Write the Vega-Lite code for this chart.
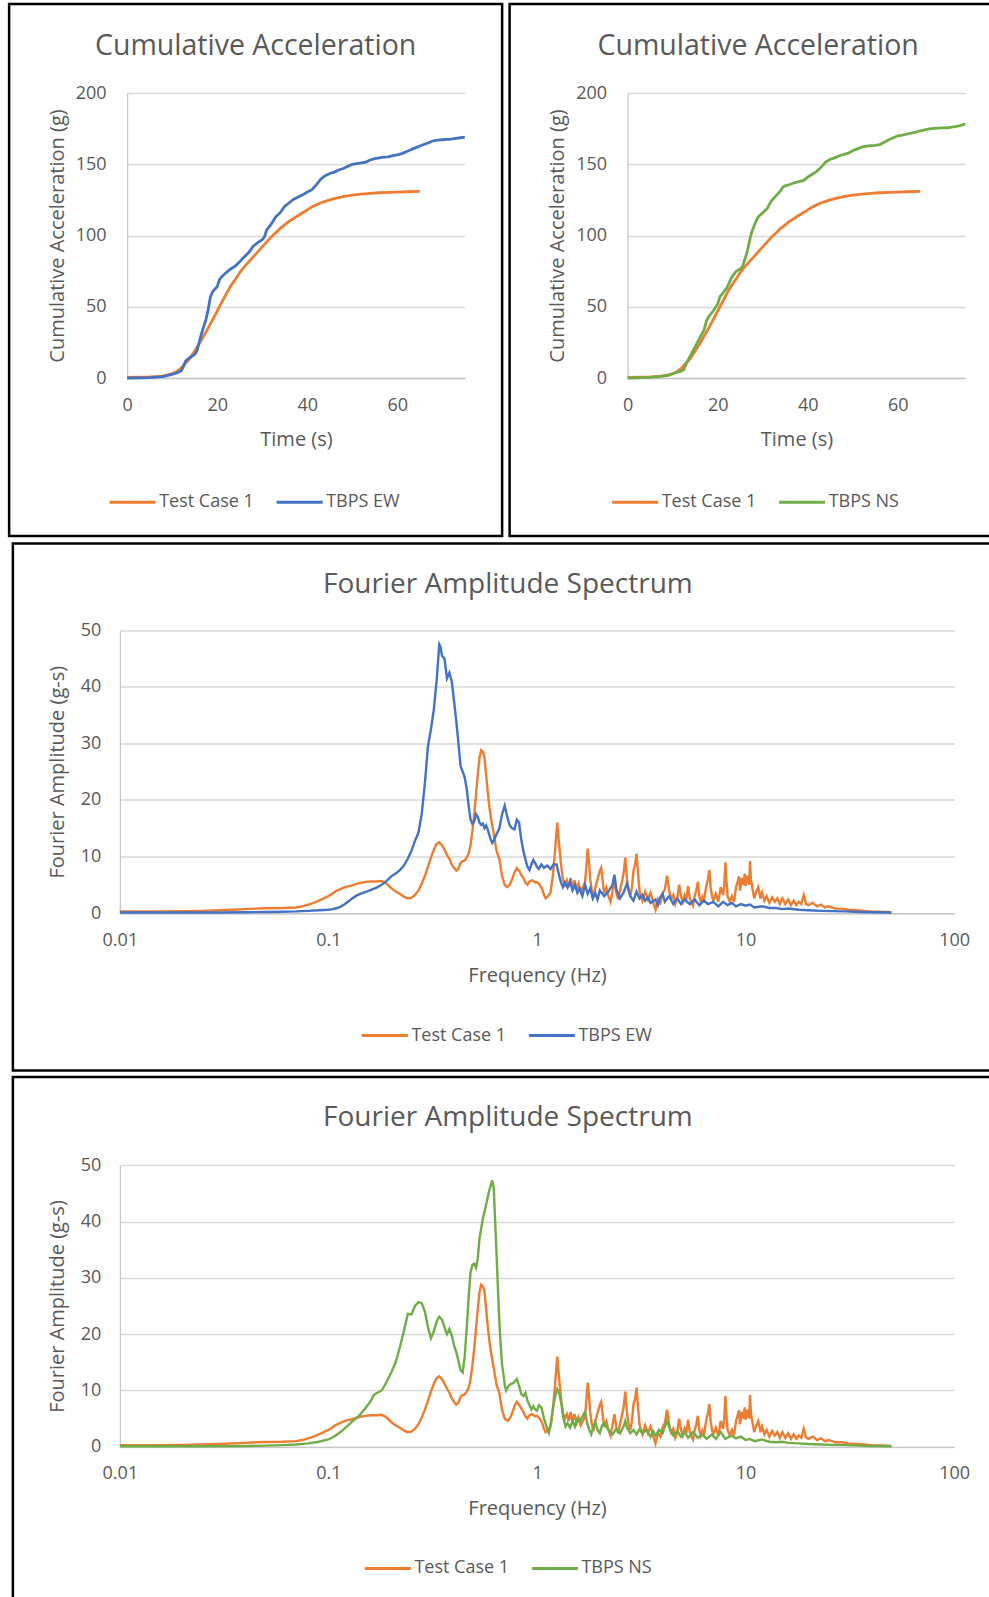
{
  "$schema": "https://vega.github.io/schema/vega-lite/v6.json",
  "padding": {"left": 7, "top": 2, "right": 0, "bottom": 0},
  "background": "white",
  "datasets": {
    "cum_tc1": [
      {"s":"Test Case 1","x":0,"y":0.5},{"s":"Test Case 1","x":3,"y":0.6},{"s":"Test Case 1","x":5,"y":0.8},{"s":"Test Case 1","x":7,"y":1.2},{"s":"Test Case 1","x":8,"y":1.5},{"s":"Test Case 1","x":9,"y":2.2},{"s":"Test Case 1","x":10,"y":3},{"s":"Test Case 1","x":11,"y":4.5},{"s":"Test Case 1","x":12,"y":7},{"s":"Test Case 1","x":13,"y":10.5},{"s":"Test Case 1","x":14,"y":14},{"s":"Test Case 1","x":15,"y":19},{"s":"Test Case 1","x":16,"y":24},{"s":"Test Case 1","x":17,"y":29.5},{"s":"Test Case 1","x":18,"y":35},{"s":"Test Case 1","x":19,"y":41},{"s":"Test Case 1","x":20,"y":47},{"s":"Test Case 1","x":21,"y":53},{"s":"Test Case 1","x":22,"y":59},{"s":"Test Case 1","x":23,"y":64.5},{"s":"Test Case 1","x":24,"y":69},{"s":"Test Case 1","x":25,"y":74},{"s":"Test Case 1","x":26,"y":78},{"s":"Test Case 1","x":27,"y":81.5},{"s":"Test Case 1","x":28,"y":85},{"s":"Test Case 1","x":29,"y":88.5},{"s":"Test Case 1","x":30,"y":92},{"s":"Test Case 1","x":31,"y":95.5},{"s":"Test Case 1","x":32,"y":99},{"s":"Test Case 1","x":33,"y":102},{"s":"Test Case 1","x":34,"y":105},{"s":"Test Case 1","x":35,"y":107.5},{"s":"Test Case 1","x":36,"y":110},{"s":"Test Case 1","x":37,"y":112},{"s":"Test Case 1","x":38,"y":114},{"s":"Test Case 1","x":39,"y":116},{"s":"Test Case 1","x":40,"y":118},{"s":"Test Case 1","x":41,"y":120},{"s":"Test Case 1","x":42,"y":121.5},{"s":"Test Case 1","x":43,"y":123},{"s":"Test Case 1","x":44,"y":124},{"s":"Test Case 1","x":45,"y":125},{"s":"Test Case 1","x":46,"y":125.8},{"s":"Test Case 1","x":47,"y":126.5},{"s":"Test Case 1","x":48,"y":127.2},{"s":"Test Case 1","x":49,"y":127.8},{"s":"Test Case 1","x":50,"y":128.3},{"s":"Test Case 1","x":52,"y":129},{"s":"Test Case 1","x":54,"y":129.6},{"s":"Test Case 1","x":56,"y":130},{"s":"Test Case 1","x":58,"y":130.3},{"s":"Test Case 1","x":60,"y":130.5},{"s":"Test Case 1","x":62,"y":130.7},{"s":"Test Case 1","x":65,"y":131}
    ],
    "cum_ew": [
      {"s":"TBPS EW","x":0,"y":0},{"s":"TBPS EW","x":3,"y":0.1},{"s":"TBPS EW","x":5,"y":0.3},{"s":"TBPS EW","x":8,"y":1},{"s":"TBPS EW","x":10,"y":2.5},{"s":"TBPS EW","x":11,"y":3.5},{"s":"TBPS EW","x":12,"y":5},{"s":"TBPS EW","x":12.5,"y":8},{"s":"TBPS EW","x":13,"y":12},{"s":"TBPS EW","x":14,"y":14.5},{"s":"TBPS EW","x":15,"y":16.5},{"s":"TBPS EW","x":15.5,"y":19},{"s":"TBPS EW","x":16,"y":25},{"s":"TBPS EW","x":16.5,"y":31},{"s":"TBPS EW","x":17,"y":36},{"s":"TBPS EW","x":17.5,"y":41},{"s":"TBPS EW","x":18,"y":48},{"s":"TBPS EW","x":18.5,"y":57},{"s":"TBPS EW","x":19,"y":60.5},{"s":"TBPS EW","x":19.5,"y":62.5},{"s":"TBPS EW","x":20,"y":64},{"s":"TBPS EW","x":20.5,"y":69},{"s":"TBPS EW","x":21,"y":71},{"s":"TBPS EW","x":22,"y":74},{"s":"TBPS EW","x":23,"y":76.5},{"s":"TBPS EW","x":24,"y":78.5},{"s":"TBPS EW","x":25,"y":81.5},{"s":"TBPS EW","x":26,"y":85},{"s":"TBPS EW","x":27,"y":88},{"s":"TBPS EW","x":28,"y":92.5},{"s":"TBPS EW","x":29,"y":95},{"s":"TBPS EW","x":30,"y":97},{"s":"TBPS EW","x":30.5,"y":99},{"s":"TBPS EW","x":31,"y":104},{"s":"TBPS EW","x":32,"y":108},{"s":"TBPS EW","x":33,"y":113},{"s":"TBPS EW","x":34,"y":116},{"s":"TBPS EW","x":35,"y":120.5},{"s":"TBPS EW","x":36,"y":123},{"s":"TBPS EW","x":37,"y":125.5},{"s":"TBPS EW","x":38,"y":127},{"s":"TBPS EW","x":39,"y":128.5},{"s":"TBPS EW","x":40,"y":130.5},{"s":"TBPS EW","x":41,"y":132},{"s":"TBPS EW","x":42,"y":135.5},{"s":"TBPS EW","x":43,"y":139.5},{"s":"TBPS EW","x":44,"y":142},{"s":"TBPS EW","x":45,"y":143.5},{"s":"TBPS EW","x":46,"y":144.5},{"s":"TBPS EW","x":47,"y":146},{"s":"TBPS EW","x":48,"y":147},{"s":"TBPS EW","x":49,"y":148.5},{"s":"TBPS EW","x":50,"y":150},{"s":"TBPS EW","x":51,"y":150.5},{"s":"TBPS EW","x":52,"y":151},{"s":"TBPS EW","x":53,"y":151.5},{"s":"TBPS EW","x":54,"y":153},{"s":"TBPS EW","x":55,"y":154},{"s":"TBPS EW","x":56,"y":154.5},{"s":"TBPS EW","x":57,"y":155},{"s":"TBPS EW","x":58,"y":155.2},{"s":"TBPS EW","x":59,"y":156},{"s":"TBPS EW","x":60,"y":156.6},{"s":"TBPS EW","x":61,"y":157.5},{"s":"TBPS EW","x":62,"y":158.8},{"s":"TBPS EW","x":63,"y":160.2},{"s":"TBPS EW","x":64,"y":161.5},{"s":"TBPS EW","x":65,"y":162.8},{"s":"TBPS EW","x":66,"y":164},{"s":"TBPS EW","x":67,"y":165.2},{"s":"TBPS EW","x":68,"y":166.5},{"s":"TBPS EW","x":69,"y":167},{"s":"TBPS EW","x":70,"y":167.2},{"s":"TBPS EW","x":71,"y":167.4},{"s":"TBPS EW","x":72,"y":167.6},{"s":"TBPS EW","x":73,"y":168.2},{"s":"TBPS EW","x":74,"y":168.6},{"s":"TBPS EW","x":75,"y":169}
    ],
    "cum_ns": [
      {"s":"TBPS NS","x":0,"y":0},{"s":"TBPS NS","x":3,"y":0.2},{"s":"TBPS NS","x":5,"y":0.5},{"s":"TBPS NS","x":7,"y":1},{"s":"TBPS NS","x":8,"y":1.5},{"s":"TBPS NS","x":9,"y":1.8},{"s":"TBPS NS","x":10,"y":3},{"s":"TBPS NS","x":11,"y":4},{"s":"TBPS NS","x":12,"y":5},{"s":"TBPS NS","x":12.5,"y":6},{"s":"TBPS NS","x":13,"y":10},{"s":"TBPS NS","x":13.5,"y":13},{"s":"TBPS NS","x":14,"y":16},{"s":"TBPS NS","x":14.5,"y":19},{"s":"TBPS NS","x":15,"y":22},{"s":"TBPS NS","x":15.5,"y":25},{"s":"TBPS NS","x":16,"y":28},{"s":"TBPS NS","x":16.5,"y":31},{"s":"TBPS NS","x":17,"y":34},{"s":"TBPS NS","x":17.5,"y":40},{"s":"TBPS NS","x":18,"y":43},{"s":"TBPS NS","x":19,"y":47},{"s":"TBPS NS","x":20,"y":52},{"s":"TBPS NS","x":20.5,"y":57},{"s":"TBPS NS","x":21,"y":59},{"s":"TBPS NS","x":22,"y":63},{"s":"TBPS NS","x":23,"y":70},{"s":"TBPS NS","x":24,"y":74.5},{"s":"TBPS NS","x":25,"y":76.5},{"s":"TBPS NS","x":25.5,"y":78},{"s":"TBPS NS","x":26,"y":83},{"s":"TBPS NS","x":26.5,"y":88},{"s":"TBPS NS","x":27,"y":95},{"s":"TBPS NS","x":27.5,"y":102},{"s":"TBPS NS","x":28,"y":106},{"s":"TBPS NS","x":28.5,"y":110},{"s":"TBPS NS","x":29,"y":113},{"s":"TBPS NS","x":30,"y":116},{"s":"TBPS NS","x":31,"y":119},{"s":"TBPS NS","x":31.5,"y":122},{"s":"TBPS NS","x":32,"y":124.5},{"s":"TBPS NS","x":33,"y":128},{"s":"TBPS NS","x":34,"y":131.5},{"s":"TBPS NS","x":34.5,"y":134},{"s":"TBPS NS","x":35,"y":134.8},{"s":"TBPS NS","x":36,"y":135.8},{"s":"TBPS NS","x":37,"y":137},{"s":"TBPS NS","x":38,"y":137.8},{"s":"TBPS NS","x":39,"y":138.5},{"s":"TBPS NS","x":40,"y":141},{"s":"TBPS NS","x":41,"y":143},{"s":"TBPS NS","x":42,"y":145},{"s":"TBPS NS","x":43,"y":148},{"s":"TBPS NS","x":44,"y":151.5},{"s":"TBPS NS","x":45,"y":153.5},{"s":"TBPS NS","x":46,"y":154.5},{"s":"TBPS NS","x":47,"y":156},{"s":"TBPS NS","x":48,"y":157},{"s":"TBPS NS","x":49,"y":157.8},{"s":"TBPS NS","x":50,"y":159.5},{"s":"TBPS NS","x":51,"y":160.8},{"s":"TBPS NS","x":52,"y":162},{"s":"TBPS NS","x":53,"y":162.7},{"s":"TBPS NS","x":54,"y":163},{"s":"TBPS NS","x":55,"y":163.2},{"s":"TBPS NS","x":56,"y":163.8},{"s":"TBPS NS","x":57,"y":165.5},{"s":"TBPS NS","x":58,"y":167.2},{"s":"TBPS NS","x":59,"y":168.6},{"s":"TBPS NS","x":60,"y":170},{"s":"TBPS NS","x":61,"y":170.5},{"s":"TBPS NS","x":62,"y":171.2},{"s":"TBPS NS","x":63,"y":171.8},{"s":"TBPS NS","x":64,"y":172.6},{"s":"TBPS NS","x":65,"y":173.5},{"s":"TBPS NS","x":66,"y":174.2},{"s":"TBPS NS","x":67,"y":174.8},{"s":"TBPS NS","x":68,"y":175.2},{"s":"TBPS NS","x":69,"y":175.4},{"s":"TBPS NS","x":70,"y":175.5},{"s":"TBPS NS","x":71,"y":175.6},{"s":"TBPS NS","x":72,"y":176},{"s":"TBPS NS","x":73,"y":176.5},{"s":"TBPS NS","x":74,"y":177.3},{"s":"TBPS NS","x":75,"y":178.3}
    ],
    "fas_tc1": [
      {"s":"Test Case 1","x":0.01,"y":0.3},{"s":"Test Case 1","x":0.015,"y":0.3},{"s":"Test Case 1","x":0.02,"y":0.35},{"s":"Test Case 1","x":0.025,"y":0.4},{"s":"Test Case 1","x":0.03,"y":0.5},{"s":"Test Case 1","x":0.035,"y":0.6},{"s":"Test Case 1","x":0.04,"y":0.7},{"s":"Test Case 1","x":0.045,"y":0.8},{"s":"Test Case 1","x":0.05,"y":0.85},{"s":"Test Case 1","x":0.06,"y":0.9},{"s":"Test Case 1","x":0.07,"y":1.0},{"s":"Test Case 1","x":0.075,"y":1.2},{"s":"Test Case 1","x":0.08,"y":1.5},{"s":"Test Case 1","x":0.085,"y":1.8},{"s":"Test Case 1","x":0.09,"y":2.2},{"s":"Test Case 1","x":0.095,"y":2.6},{"s":"Test Case 1","x":0.1,"y":3.0},{"s":"Test Case 1","x":0.105,"y":3.5},{"s":"Test Case 1","x":0.11,"y":4.0},{"s":"Test Case 1","x":0.115,"y":4.3},{"s":"Test Case 1","x":0.12,"y":4.6},{"s":"Test Case 1","x":0.13,"y":4.9},{"s":"Test Case 1","x":0.14,"y":5.3},{"s":"Test Case 1","x":0.15,"y":5.5},{"s":"Test Case 1","x":0.16,"y":5.6},{"s":"Test Case 1","x":0.17,"y":5.6},{"s":"Test Case 1","x":0.18,"y":5.7},{"s":"Test Case 1","x":0.19,"y":5.2},{"s":"Test Case 1","x":0.2,"y":4.4},{"s":"Test Case 1","x":0.21,"y":3.8},{"s":"Test Case 1","x":0.22,"y":3.4},{"s":"Test Case 1","x":0.23,"y":2.9},{"s":"Test Case 1","x":0.24,"y":2.6},{"s":"Test Case 1","x":0.25,"y":2.7},{"s":"Test Case 1","x":0.26,"y":3.2},{"s":"Test Case 1","x":0.27,"y":4.0},{"s":"Test Case 1","x":0.28,"y":5.2},{"s":"Test Case 1","x":0.29,"y":6.6},{"s":"Test Case 1","x":0.3,"y":8.2},{"s":"Test Case 1","x":0.31,"y":9.8},{"s":"Test Case 1","x":0.32,"y":11.2},{"s":"Test Case 1","x":0.33,"y":12.2},{"s":"Test Case 1","x":0.34,"y":12.5},{"s":"Test Case 1","x":0.35,"y":12.0},{"s":"Test Case 1","x":0.36,"y":11.2},{"s":"Test Case 1","x":0.37,"y":10.3},{"s":"Test Case 1","x":0.38,"y":9.6},{"s":"Test Case 1","x":0.39,"y":8.6},{"s":"Test Case 1","x":0.4,"y":8.0},{"s":"Test Case 1","x":0.41,"y":7.5},{"s":"Test Case 1","x":0.42,"y":7.8},{"s":"Test Case 1","x":0.43,"y":8.9},{"s":"Test Case 1","x":0.44,"y":9.2},{"s":"Test Case 1","x":0.45,"y":9.3},{"s":"Test Case 1","x":0.46,"y":9.8},{"s":"Test Case 1","x":0.47,"y":10.5},{"s":"Test Case 1","x":0.48,"y":12.0},{"s":"Test Case 1","x":0.49,"y":14.5},{"s":"Test Case 1","x":0.5,"y":17.5},{"s":"Test Case 1","x":0.51,"y":21},{"s":"Test Case 1","x":0.52,"y":24.5},{"s":"Test Case 1","x":0.53,"y":27.5},{"s":"Test Case 1","x":0.54,"y":28.8},{"s":"Test Case 1","x":0.55,"y":28.5},{"s":"Test Case 1","x":0.56,"y":27.5},{"s":"Test Case 1","x":0.57,"y":24.5},{"s":"Test Case 1","x":0.58,"y":21.5},{"s":"Test Case 1","x":0.59,"y":19.0},{"s":"Test Case 1","x":0.6,"y":17.0},{"s":"Test Case 1","x":0.62,"y":14.0},{"s":"Test Case 1","x":0.64,"y":11.0},{"s":"Test Case 1","x":0.66,"y":9.5},{"s":"Test Case 1","x":0.68,"y":6.5},{"s":"Test Case 1","x":0.7,"y":5.0},{"s":"Test Case 1","x":0.72,"y":4.6},{"s":"Test Case 1","x":0.74,"y":5.0},{"s":"Test Case 1","x":0.76,"y":6.0},{"s":"Test Case 1","x":0.78,"y":7.2},{"s":"Test Case 1","x":0.8,"y":8.0},{"s":"Test Case 1","x":0.82,"y":7.5},{"s":"Test Case 1","x":0.84,"y":6.8},{"s":"Test Case 1","x":0.86,"y":6.2},{"s":"Test Case 1","x":0.88,"y":5.4},{"s":"Test Case 1","x":0.9,"y":5.0},{"s":"Test Case 1","x":0.92,"y":5.6},{"s":"Test Case 1","x":0.95,"y":5.8},{"s":"Test Case 1","x":0.98,"y":5.4},{"s":"Test Case 1","x":1.0,"y":5.5},{"s":"Test Case 1","x":1.03,"y":5.0},{"s":"Test Case 1","x":1.06,"y":4.2},{"s":"Test Case 1","x":1.08,"y":3.2},{"s":"Test Case 1","x":1.1,"y":2.6},{"s":"Test Case 1","x":1.13,"y":3.0},{"s":"Test Case 1","x":1.16,"y":3.6},{"s":"Test Case 1","x":1.19,"y":6.5},{"s":"Test Case 1","x":1.22,"y":11},{"s":"Test Case 1","x":1.25,"y":16.0},{"s":"Test Case 1","x":1.27,"y":13},{"s":"Test Case 1","x":1.3,"y":9.0},{"s":"Test Case 1","x":1.33,"y":6.0},{"s":"Test Case 1","x":1.36,"y":5.0},{"s":"Test Case 1","x":1.39,"y":5.8},{"s":"Test Case 1","x":1.42,"y":4.6},{"s":"Test Case 1","x":1.45,"y":6.2},{"s":"Test Case 1","x":1.48,"y":4.4},{"s":"Test Case 1","x":1.51,"y":5.8},{"s":"Test Case 1","x":1.55,"y":4.2},{"s":"Test Case 1","x":1.58,"y":5.2},{"s":"Test Case 1","x":1.62,"y":3.8},{"s":"Test Case 1","x":1.66,"y":4.6},{"s":"Test Case 1","x":1.7,"y":5.5},{"s":"Test Case 1","x":1.73,"y":9.0},{"s":"Test Case 1","x":1.75,"y":11.4},{"s":"Test Case 1","x":1.77,"y":9.5},{"s":"Test Case 1","x":1.8,"y":6.0},{"s":"Test Case 1","x":1.83,"y":4.0},{"s":"Test Case 1","x":1.87,"y":3.2},{"s":"Test Case 1","x":1.9,"y":4.4},{"s":"Test Case 1","x":1.95,"y":6.0},{"s":"Test Case 1","x":2.0,"y":7.5},{"s":"Test Case 1","x":2.03,"y":8.0},{"s":"Test Case 1","x":2.06,"y":6.0},{"s":"Test Case 1","x":2.1,"y":3.5},{"s":"Test Case 1","x":2.15,"y":4.5},{"s":"Test Case 1","x":2.2,"y":3.0},{"s":"Test Case 1","x":2.25,"y":2.0},{"s":"Test Case 1","x":2.3,"y":3.8},{"s":"Test Case 1","x":2.35,"y":5.8},{"s":"Test Case 1","x":2.4,"y":3.5},{"s":"Test Case 1","x":2.45,"y":2.4},{"s":"Test Case 1","x":2.5,"y":4.0},{"s":"Test Case 1","x":2.55,"y":5.5},{"s":"Test Case 1","x":2.6,"y":7.0},{"s":"Test Case 1","x":2.65,"y":9.8},{"s":"Test Case 1","x":2.7,"y":6.0},{"s":"Test Case 1","x":2.75,"y":4.0},{"s":"Test Case 1","x":2.8,"y":3.0},{"s":"Test Case 1","x":2.85,"y":4.5},{"s":"Test Case 1","x":2.9,"y":7.5},{"s":"Test Case 1","x":2.95,"y":8.5},{"s":"Test Case 1","x":3.0,"y":10.5},{"s":"Test Case 1","x":3.05,"y":7.0},{"s":"Test Case 1","x":3.1,"y":4.0},{"s":"Test Case 1","x":3.15,"y":3.0},{"s":"Test Case 1","x":3.2,"y":2.2},{"s":"Test Case 1","x":3.3,"y":3.8},{"s":"Test Case 1","x":3.4,"y":2.4},{"s":"Test Case 1","x":3.5,"y":3.6},{"s":"Test Case 1","x":3.6,"y":2.0},{"s":"Test Case 1","x":3.7,"y":0.6},{"s":"Test Case 1","x":3.8,"y":2.5},{"s":"Test Case 1","x":3.9,"y":1.8},{"s":"Test Case 1","x":4.0,"y":3.5},{"s":"Test Case 1","x":4.1,"y":4.2},{"s":"Test Case 1","x":4.2,"y":6.6},{"s":"Test Case 1","x":4.3,"y":4.0},{"s":"Test Case 1","x":4.4,"y":2.5},{"s":"Test Case 1","x":4.5,"y":3.2},{"s":"Test Case 1","x":4.6,"y":1.6},{"s":"Test Case 1","x":4.7,"y":2.6},{"s":"Test Case 1","x":4.8,"y":5.0},{"s":"Test Case 1","x":4.9,"y":3.0},{"s":"Test Case 1","x":5.0,"y":2.0},{"s":"Test Case 1","x":5.1,"y":3.2},{"s":"Test Case 1","x":5.2,"y":2.4},{"s":"Test Case 1","x":5.3,"y":4.8},{"s":"Test Case 1","x":5.4,"y":2.6},{"s":"Test Case 1","x":5.5,"y":1.8},{"s":"Test Case 1","x":5.6,"y":1.3},{"s":"Test Case 1","x":5.7,"y":3.0},{"s":"Test Case 1","x":5.8,"y":4.0},{"s":"Test Case 1","x":5.9,"y":5.5},{"s":"Test Case 1","x":6.0,"y":3.0},{"s":"Test Case 1","x":6.1,"y":2.0},{"s":"Test Case 1","x":6.2,"y":2.8},{"s":"Test Case 1","x":6.3,"y":1.8},{"s":"Test Case 1","x":6.4,"y":3.6},{"s":"Test Case 1","x":6.5,"y":5.0},{"s":"Test Case 1","x":6.6,"y":6.0},{"s":"Test Case 1","x":6.7,"y":7.6},{"s":"Test Case 1","x":6.8,"y":4.5},{"s":"Test Case 1","x":6.9,"y":3.0},{"s":"Test Case 1","x":7.0,"y":2.2},{"s":"Test Case 1","x":7.2,"y":3.4},{"s":"Test Case 1","x":7.4,"y":2.0},{"s":"Test Case 1","x":7.6,"y":4.6},{"s":"Test Case 1","x":7.8,"y":3.2},{"s":"Test Case 1","x":7.9,"y":5.0},{"s":"Test Case 1","x":8.0,"y":9.0},{"s":"Test Case 1","x":8.1,"y":5.5},{"s":"Test Case 1","x":8.2,"y":3.0},{"s":"Test Case 1","x":8.4,"y":2.0},{"s":"Test Case 1","x":8.6,"y":3.0},{"s":"Test Case 1","x":8.8,"y":2.0},{"s":"Test Case 1","x":9.0,"y":4.6},{"s":"Test Case 1","x":9.2,"y":5.8},{"s":"Test Case 1","x":9.3,"y":6.5},{"s":"Test Case 1","x":9.4,"y":4.0},{"s":"Test Case 1","x":9.6,"y":6.2},{"s":"Test Case 1","x":9.8,"y":5.0},{"s":"Test Case 1","x":9.9,"y":7.0},{"s":"Test Case 1","x":10.0,"y":4.8},{"s":"Test Case 1","x":10.2,"y":6.6},{"s":"Test Case 1","x":10.4,"y":5.0},{"s":"Test Case 1","x":10.5,"y":9.2},{"s":"Test Case 1","x":10.6,"y":6.0},{"s":"Test Case 1","x":10.8,"y":4.2},{"s":"Test Case 1","x":11.0,"y":2.6},{"s":"Test Case 1","x":11.2,"y":3.6},{"s":"Test Case 1","x":11.5,"y":4.6},{"s":"Test Case 1","x":11.8,"y":2.6},{"s":"Test Case 1","x":12.0,"y":3.6},{"s":"Test Case 1","x":12.3,"y":2.2},{"s":"Test Case 1","x":12.6,"y":3.0},{"s":"Test Case 1","x":13.0,"y":1.8},{"s":"Test Case 1","x":13.4,"y":2.8},{"s":"Test Case 1","x":13.8,"y":2.0},{"s":"Test Case 1","x":14.2,"y":2.6},{"s":"Test Case 1","x":14.6,"y":1.6},{"s":"Test Case 1","x":15.0,"y":2.6},{"s":"Test Case 1","x":15.5,"y":1.6},{"s":"Test Case 1","x":16.0,"y":2.4},{"s":"Test Case 1","x":16.5,"y":1.4},{"s":"Test Case 1","x":17.0,"y":2.2},{"s":"Test Case 1","x":17.5,"y":1.4},{"s":"Test Case 1","x":18.0,"y":2.0},{"s":"Test Case 1","x":18.5,"y":1.6},{"s":"Test Case 1","x":19.0,"y":3.2},{"s":"Test Case 1","x":19.5,"y":1.6},{"s":"Test Case 1","x":20.0,"y":1.4},{"s":"Test Case 1","x":21.0,"y":1.8},{"s":"Test Case 1","x":22.0,"y":1.2},{"s":"Test Case 1","x":23.0,"y":1.5},{"s":"Test Case 1","x":24.0,"y":1.0},{"s":"Test Case 1","x":25.0,"y":1.2},{"s":"Test Case 1","x":27.0,"y":0.8},{"s":"Test Case 1","x":29.0,"y":0.8},{"s":"Test Case 1","x":31.0,"y":0.6},{"s":"Test Case 1","x":34.0,"y":0.5},{"s":"Test Case 1","x":37.0,"y":0.4},{"s":"Test Case 1","x":40.0,"y":0.3},{"s":"Test Case 1","x":44.0,"y":0.25},{"s":"Test Case 1","x":48.0,"y":0.2},{"s":"Test Case 1","x":50.0,"y":0.15}
    ],
    "fas_ew": [
      {"s":"TBPS EW","x":0.01,"y":0.1},{"s":"TBPS EW","x":0.02,"y":0.1},{"s":"TBPS EW","x":0.03,"y":0.1},{"s":"TBPS EW","x":0.04,"y":0.15},{"s":"TBPS EW","x":0.05,"y":0.2},{"s":"TBPS EW","x":0.06,"y":0.25},{"s":"TBPS EW","x":0.07,"y":0.3},{"s":"TBPS EW","x":0.08,"y":0.4},{"s":"TBPS EW","x":0.09,"y":0.5},{"s":"TBPS EW","x":0.1,"y":0.6},{"s":"TBPS EW","x":0.105,"y":0.7},{"s":"TBPS EW","x":0.11,"y":0.9},{"s":"TBPS EW","x":0.115,"y":1.2},{"s":"TBPS EW","x":0.12,"y":1.6},{"s":"TBPS EW","x":0.125,"y":2.1},{"s":"TBPS EW","x":0.13,"y":2.6},{"s":"TBPS EW","x":0.135,"y":3.0},{"s":"TBPS EW","x":0.14,"y":3.3},{"s":"TBPS EW","x":0.15,"y":3.7},{"s":"TBPS EW","x":0.16,"y":4.1},{"s":"TBPS EW","x":0.17,"y":4.5},{"s":"TBPS EW","x":0.18,"y":5.0},{"s":"TBPS EW","x":0.19,"y":5.7},{"s":"TBPS EW","x":0.2,"y":6.5},{"s":"TBPS EW","x":0.21,"y":7.0},{"s":"TBPS EW","x":0.22,"y":7.6},{"s":"TBPS EW","x":0.23,"y":8.4},{"s":"TBPS EW","x":0.24,"y":9.6},{"s":"TBPS EW","x":0.25,"y":11.0},{"s":"TBPS EW","x":0.26,"y":12.8},{"s":"TBPS EW","x":0.27,"y":14.2},{"s":"TBPS EW","x":0.28,"y":17.5},{"s":"TBPS EW","x":0.29,"y":23},{"s":"TBPS EW","x":0.3,"y":29.5},{"s":"TBPS EW","x":0.31,"y":32.5},{"s":"TBPS EW","x":0.32,"y":36},{"s":"TBPS EW","x":0.33,"y":41},{"s":"TBPS EW","x":0.34,"y":47.5},{"s":"TBPS EW","x":0.345,"y":47.0},{"s":"TBPS EW","x":0.35,"y":45.5},{"s":"TBPS EW","x":0.36,"y":45.0},{"s":"TBPS EW","x":0.37,"y":41.5},{"s":"TBPS EW","x":0.38,"y":42.5},{"s":"TBPS EW","x":0.39,"y":41.0},{"s":"TBPS EW","x":0.4,"y":37.5},{"s":"TBPS EW","x":0.41,"y":34},{"s":"TBPS EW","x":0.42,"y":30},{"s":"TBPS EW","x":0.43,"y":26},{"s":"TBPS EW","x":0.44,"y":25},{"s":"TBPS EW","x":0.45,"y":24},{"s":"TBPS EW","x":0.46,"y":22},{"s":"TBPS EW","x":0.47,"y":19},{"s":"TBPS EW","x":0.48,"y":16.5},{"s":"TBPS EW","x":0.49,"y":15.8},{"s":"TBPS EW","x":0.5,"y":16.2},{"s":"TBPS EW","x":0.51,"y":17.5},{"s":"TBPS EW","x":0.52,"y":17.0},{"s":"TBPS EW","x":0.53,"y":16.0},{"s":"TBPS EW","x":0.54,"y":15.6},{"s":"TBPS EW","x":0.55,"y":15.8},{"s":"TBPS EW","x":0.56,"y":15.0},{"s":"TBPS EW","x":0.57,"y":15.5},{"s":"TBPS EW","x":0.58,"y":14.8},{"s":"TBPS EW","x":0.6,"y":13.0},{"s":"TBPS EW","x":0.61,"y":12.4},{"s":"TBPS EW","x":0.62,"y":12.8},{"s":"TBPS EW","x":0.64,"y":14.0},{"s":"TBPS EW","x":0.66,"y":15.0},{"s":"TBPS EW","x":0.68,"y":17.5},{"s":"TBPS EW","x":0.7,"y":19.0},{"s":"TBPS EW","x":0.71,"y":18.0},{"s":"TBPS EW","x":0.72,"y":17.0},{"s":"TBPS EW","x":0.74,"y":15.5},{"s":"TBPS EW","x":0.76,"y":15.0},{"s":"TBPS EW","x":0.78,"y":14.8},{"s":"TBPS EW","x":0.8,"y":16.5},{"s":"TBPS EW","x":0.82,"y":16.0},{"s":"TBPS EW","x":0.84,"y":13.0},{"s":"TBPS EW","x":0.86,"y":11.0},{"s":"TBPS EW","x":0.88,"y":9.5},{"s":"TBPS EW","x":0.9,"y":8.2},{"s":"TBPS EW","x":0.92,"y":7.6},{"s":"TBPS EW","x":0.94,"y":8.6},{"s":"TBPS EW","x":0.96,"y":9.4},{"s":"TBPS EW","x":0.98,"y":8.8},{"s":"TBPS EW","x":1.0,"y":8.2},{"s":"TBPS EW","x":1.02,"y":7.8},{"s":"TBPS EW","x":1.05,"y":8.6},{"s":"TBPS EW","x":1.08,"y":8.0},{"s":"TBPS EW","x":1.12,"y":8.4},{"s":"TBPS EW","x":1.16,"y":7.8},{"s":"TBPS EW","x":1.2,"y":8.6},{"s":"TBPS EW","x":1.24,"y":8.6},{"s":"TBPS EW","x":1.27,"y":7.0},{"s":"TBPS EW","x":1.3,"y":5.5},{"s":"TBPS EW","x":1.33,"y":4.6},{"s":"TBPS EW","x":1.36,"y":5.4},{"s":"TBPS EW","x":1.4,"y":4.5},{"s":"TBPS EW","x":1.44,"y":5.6},{"s":"TBPS EW","x":1.48,"y":4.0},{"s":"TBPS EW","x":1.52,"y":5.0},{"s":"TBPS EW","x":1.56,"y":3.6},{"s":"TBPS EW","x":1.6,"y":4.4},{"s":"TBPS EW","x":1.65,"y":3.0},{"s":"TBPS EW","x":1.7,"y":5.0},{"s":"TBPS EW","x":1.75,"y":3.4},{"s":"TBPS EW","x":1.8,"y":4.4},{"s":"TBPS EW","x":1.85,"y":2.6},{"s":"TBPS EW","x":1.9,"y":3.6},{"s":"TBPS EW","x":1.95,"y":2.4},{"s":"TBPS EW","x":2.0,"y":4.0},{"s":"TBPS EW","x":2.1,"y":3.0},{"s":"TBPS EW","x":2.2,"y":3.8},{"s":"TBPS EW","x":2.3,"y":5.0},{"s":"TBPS EW","x":2.35,"y":6.8},{"s":"TBPS EW","x":2.4,"y":4.2},{"s":"TBPS EW","x":2.5,"y":2.6},{"s":"TBPS EW","x":2.6,"y":3.6},{"s":"TBPS EW","x":2.7,"y":5.2},{"s":"TBPS EW","x":2.8,"y":3.0},{"s":"TBPS EW","x":2.9,"y":2.2},{"s":"TBPS EW","x":3.0,"y":3.8},{"s":"TBPS EW","x":3.1,"y":2.6},{"s":"TBPS EW","x":3.2,"y":3.2},{"s":"TBPS EW","x":3.3,"y":2.2},{"s":"TBPS EW","x":3.4,"y":2.8},{"s":"TBPS EW","x":3.5,"y":1.8},{"s":"TBPS EW","x":3.7,"y":2.4},{"s":"TBPS EW","x":3.8,"y":1.4},{"s":"TBPS EW","x":3.9,"y":2.8},{"s":"TBPS EW","x":4.0,"y":3.4},{"s":"TBPS EW","x":4.1,"y":2.0},{"s":"TBPS EW","x":4.3,"y":3.0},{"s":"TBPS EW","x":4.5,"y":1.6},{"s":"TBPS EW","x":4.7,"y":2.6},{"s":"TBPS EW","x":4.9,"y":1.6},{"s":"TBPS EW","x":5.1,"y":2.4},{"s":"TBPS EW","x":5.4,"y":1.6},{"s":"TBPS EW","x":5.7,"y":2.4},{"s":"TBPS EW","x":6.0,"y":1.4},{"s":"TBPS EW","x":6.3,"y":2.2},{"s":"TBPS EW","x":6.6,"y":1.6},{"s":"TBPS EW","x":7.0,"y":2.0},{"s":"TBPS EW","x":7.4,"y":1.2},{"s":"TBPS EW","x":7.8,"y":2.0},{"s":"TBPS EW","x":8.2,"y":1.4},{"s":"TBPS EW","x":8.6,"y":1.8},{"s":"TBPS EW","x":9.0,"y":1.2},{"s":"TBPS EW","x":9.5,"y":1.6},{"s":"TBPS EW","x":10.0,"y":1.3},{"s":"TBPS EW","x":10.5,"y":1.5},{"s":"TBPS EW","x":11.0,"y":1.0},{"s":"TBPS EW","x":12.0,"y":1.2},{"s":"TBPS EW","x":13.0,"y":0.9},{"s":"TBPS EW","x":14.0,"y":0.9},{"s":"TBPS EW","x":15.0,"y":0.7},{"s":"TBPS EW","x":16.0,"y":0.8},{"s":"TBPS EW","x":18.0,"y":0.6},{"s":"TBPS EW","x":20.0,"y":0.5},{"s":"TBPS EW","x":23.0,"y":0.4},{"s":"TBPS EW","x":26.0,"y":0.35},{"s":"TBPS EW","x":30.0,"y":0.3},{"s":"TBPS EW","x":35.0,"y":0.2},{"s":"TBPS EW","x":40.0,"y":0.15},{"s":"TBPS EW","x":50.0,"y":0.1}
    ],
    "fas_ns": [
      {"s":"TBPS NS","x":0.01,"y":0.1},{"s":"TBPS NS","x":0.02,"y":0.1},{"s":"TBPS NS","x":0.03,"y":0.1},{"s":"TBPS NS","x":0.04,"y":0.15},{"s":"TBPS NS","x":0.05,"y":0.2},{"s":"TBPS NS","x":0.06,"y":0.3},{"s":"TBPS NS","x":0.07,"y":0.4},{"s":"TBPS NS","x":0.08,"y":0.6},{"s":"TBPS NS","x":0.09,"y":0.9},{"s":"TBPS NS","x":0.1,"y":1.3},{"s":"TBPS NS","x":0.105,"y":1.7},{"s":"TBPS NS","x":0.11,"y":2.2},{"s":"TBPS NS","x":0.115,"y":2.7},{"s":"TBPS NS","x":0.12,"y":3.3},{"s":"TBPS NS","x":0.125,"y":3.9},{"s":"TBPS NS","x":0.13,"y":4.5},{"s":"TBPS NS","x":0.135,"y":5.0},{"s":"TBPS NS","x":0.14,"y":5.5},{"s":"TBPS NS","x":0.15,"y":6.8},{"s":"TBPS NS","x":0.16,"y":8.2},{"s":"TBPS NS","x":0.165,"y":9.2},{"s":"TBPS NS","x":0.17,"y":9.5},{"s":"TBPS NS","x":0.18,"y":10.0},{"s":"TBPS NS","x":0.19,"y":11.5},{"s":"TBPS NS","x":0.2,"y":13.2},{"s":"TBPS NS","x":0.21,"y":15.0},{"s":"TBPS NS","x":0.22,"y":17.7},{"s":"TBPS NS","x":0.23,"y":20.5},{"s":"TBPS NS","x":0.24,"y":23.6},{"s":"TBPS NS","x":0.25,"y":23.5},{"s":"TBPS NS","x":0.26,"y":25.0},{"s":"TBPS NS","x":0.27,"y":25.7},{"s":"TBPS NS","x":0.28,"y":25.5},{"s":"TBPS NS","x":0.29,"y":24},{"s":"TBPS NS","x":0.3,"y":21.2},{"s":"TBPS NS","x":0.31,"y":19.3},{"s":"TBPS NS","x":0.32,"y":20.5},{"s":"TBPS NS","x":0.33,"y":22.2},{"s":"TBPS NS","x":0.34,"y":23.1},{"s":"TBPS NS","x":0.35,"y":22.6},{"s":"TBPS NS","x":0.36,"y":21.2},{"s":"TBPS NS","x":0.37,"y":20.0},{"s":"TBPS NS","x":0.38,"y":20.9},{"s":"TBPS NS","x":0.39,"y":19.8},{"s":"TBPS NS","x":0.4,"y":18.0},{"s":"TBPS NS","x":0.41,"y":16.8},{"s":"TBPS NS","x":0.42,"y":15.3},{"s":"TBPS NS","x":0.43,"y":13.6},{"s":"TBPS NS","x":0.44,"y":13.2},{"s":"TBPS NS","x":0.45,"y":16},{"s":"TBPS NS","x":0.46,"y":21},{"s":"TBPS NS","x":0.47,"y":26.5},{"s":"TBPS NS","x":0.48,"y":31},{"s":"TBPS NS","x":0.49,"y":32.3},{"s":"TBPS NS","x":0.5,"y":32.5},{"s":"TBPS NS","x":0.51,"y":31.8},{"s":"TBPS NS","x":0.52,"y":33.5},{"s":"TBPS NS","x":0.53,"y":37},{"s":"TBPS NS","x":0.55,"y":40.5},{"s":"TBPS NS","x":0.57,"y":43},{"s":"TBPS NS","x":0.59,"y":45.5},{"s":"TBPS NS","x":0.61,"y":47.3},{"s":"TBPS NS","x":0.62,"y":46.0},{"s":"TBPS NS","x":0.63,"y":40},{"s":"TBPS NS","x":0.64,"y":34},{"s":"TBPS NS","x":0.65,"y":27.8},{"s":"TBPS NS","x":0.66,"y":22},{"s":"TBPS NS","x":0.67,"y":18},{"s":"TBPS NS","x":0.68,"y":14.5},{"s":"TBPS NS","x":0.69,"y":12.9},{"s":"TBPS NS","x":0.7,"y":11.0},{"s":"TBPS NS","x":0.71,"y":10.0},{"s":"TBPS NS","x":0.73,"y":10.8},{"s":"TBPS NS","x":0.75,"y":11.2},{"s":"TBPS NS","x":0.77,"y":11.3},{"s":"TBPS NS","x":0.8,"y":12.0},{"s":"TBPS NS","x":0.82,"y":10.8},{"s":"TBPS NS","x":0.84,"y":9.4},{"s":"TBPS NS","x":0.86,"y":9.0},{"s":"TBPS NS","x":0.88,"y":9.6},{"s":"TBPS NS","x":0.9,"y":8.2},{"s":"TBPS NS","x":0.92,"y":7.4},{"s":"TBPS NS","x":0.94,"y":6.6},{"s":"TBPS NS","x":0.96,"y":7.2},{"s":"TBPS NS","x":0.98,"y":6.6},{"s":"TBPS NS","x":1.0,"y":6.4},{"s":"TBPS NS","x":1.02,"y":7.4},{"s":"TBPS NS","x":1.05,"y":7.0},{"s":"TBPS NS","x":1.08,"y":5.0},{"s":"TBPS NS","x":1.11,"y":3.6},{"s":"TBPS NS","x":1.14,"y":2.5},{"s":"TBPS NS","x":1.17,"y":4.5},{"s":"TBPS NS","x":1.2,"y":7.5},{"s":"TBPS NS","x":1.23,"y":9.4},{"s":"TBPS NS","x":1.25,"y":10.2},{"s":"TBPS NS","x":1.28,"y":9.4},{"s":"TBPS NS","x":1.31,"y":7.5},{"s":"TBPS NS","x":1.34,"y":5.0},{"s":"TBPS NS","x":1.37,"y":3.6},{"s":"TBPS NS","x":1.4,"y":4.2},{"s":"TBPS NS","x":1.44,"y":3.4},{"s":"TBPS NS","x":1.48,"y":4.6},{"s":"TBPS NS","x":1.52,"y":3.6},{"s":"TBPS NS","x":1.56,"y":5.0},{"s":"TBPS NS","x":1.6,"y":4.4},{"s":"TBPS NS","x":1.65,"y":5.4},{"s":"TBPS NS","x":1.7,"y":6.2},{"s":"TBPS NS","x":1.74,"y":4.2},{"s":"TBPS NS","x":1.78,"y":3.0},{"s":"TBPS NS","x":1.82,"y":2.2},{"s":"TBPS NS","x":1.86,"y":3.6},{"s":"TBPS NS","x":1.9,"y":4.4},{"s":"TBPS NS","x":1.95,"y":3.0},{"s":"TBPS NS","x":2.0,"y":2.4},{"s":"TBPS NS","x":2.05,"y":3.8},{"s":"TBPS NS","x":2.1,"y":4.2},{"s":"TBPS NS","x":2.2,"y":3.0},{"s":"TBPS NS","x":2.3,"y":2.2},{"s":"TBPS NS","x":2.4,"y":3.2},{"s":"TBPS NS","x":2.5,"y":2.4},{"s":"TBPS NS","x":2.6,"y":3.6},{"s":"TBPS NS","x":2.65,"y":4.6},{"s":"TBPS NS","x":2.7,"y":3.4},{"s":"TBPS NS","x":2.8,"y":2.4},{"s":"TBPS NS","x":2.9,"y":3.0},{"s":"TBPS NS","x":3.0,"y":2.2},{"s":"TBPS NS","x":3.1,"y":3.2},{"s":"TBPS NS","x":3.2,"y":2.4},{"s":"TBPS NS","x":3.35,"y":3.0},{"s":"TBPS NS","x":3.5,"y":1.8},{"s":"TBPS NS","x":3.6,"y":2.8},{"s":"TBPS NS","x":3.7,"y":2.0},{"s":"TBPS NS","x":3.85,"y":3.0},{"s":"TBPS NS","x":4.0,"y":2.4},{"s":"TBPS NS","x":4.1,"y":3.6},{"s":"TBPS NS","x":4.2,"y":4.6},{"s":"TBPS NS","x":4.35,"y":3.0},{"s":"TBPS NS","x":4.5,"y":2.0},{"s":"TBPS NS","x":4.7,"y":2.8},{"s":"TBPS NS","x":4.9,"y":1.8},{"s":"TBPS NS","x":5.1,"y":2.6},{"s":"TBPS NS","x":5.3,"y":1.6},{"s":"TBPS NS","x":5.6,"y":2.6},{"s":"TBPS NS","x":5.9,"y":1.6},{"s":"TBPS NS","x":6.2,"y":2.2},{"s":"TBPS NS","x":6.5,"y":1.4},{"s":"TBPS NS","x":6.9,"y":2.2},{"s":"TBPS NS","x":7.2,"y":1.4},{"s":"TBPS NS","x":7.6,"y":2.6},{"s":"TBPS NS","x":8.0,"y":1.4},{"s":"TBPS NS","x":8.5,"y":2.0},{"s":"TBPS NS","x":9.0,"y":1.5},{"s":"TBPS NS","x":9.5,"y":1.8},{"s":"TBPS NS","x":10.0,"y":1.2},{"s":"TBPS NS","x":10.5,"y":1.4},{"s":"TBPS NS","x":11.0,"y":1.0},{"s":"TBPS NS","x":12.0,"y":1.3},{"s":"TBPS NS","x":13.0,"y":0.9},{"s":"TBPS NS","x":14.0,"y":0.8},{"s":"TBPS NS","x":15.0,"y":0.9},{"s":"TBPS NS","x":16.0,"y":0.7},{"s":"TBPS NS","x":18.0,"y":0.6},{"s":"TBPS NS","x":20.0,"y":0.5},{"s":"TBPS NS","x":23.0,"y":0.4},{"s":"TBPS NS","x":26.0,"y":0.35},{"s":"TBPS NS","x":30.0,"y":0.3},{"s":"TBPS NS","x":35.0,"y":0.2},{"s":"TBPS NS","x":40.0,"y":0.15},{"s":"TBPS NS","x":50.0,"y":0.1}
    ]
  },
  "vconcat": [
    {
      "hconcat": [
        {
          "width": 493, "height": 532,
          "title": {"text": "Cumulative Acceleration", "fontSize": 28.5, "offset": -56},
          "encoding": {
            "x": {"field": "x", "type": "quantitative", "scale": {"domain": [0, 75], "range": [118, 455.7], "nice": false, "zero": false},
                  "axis": {"title": "Time (s)", "values": [0, 20, 40, 60], "grid": false, "offset": -158, "labelPadding": 18, "titlePadding": 15}},
            "y": {"field": "y", "type": "quantitative", "scale": {"domain": [0, 200], "range": [374, 89], "nice": false, "zero": false},
                  "axis": {"title": "Cumulative Acceleration (g)", "values": [0, 50, 100, 150, 200], "grid": true, "offset": -118, "labelPadding": 21, "titlePadding": 8}},
            "color": {"field": "s", "type": "nominal", "scale": {"domain": ["Test Case 1", "TBPS EW"], "range": ["#ED7D31", "#4472C4"]},
                      "legend": {"title": null, "orient": "none", "direction": "horizontal", "legendX": 99, "legendY": 473.5}}
          },
          "layer": [
            {"data": {"name": "cum_tc1"}, "mark": {"type": "line", "strokeWidth": 2.8}},
            {"data": {"name": "cum_ew"}, "mark": {"type": "line", "strokeWidth": 2.8}}
          ]
        },
        {
          "width": 497, "height": 532,
          "title": {"text": "Cumulative Acceleration", "fontSize": 28.5, "offset": -56},
          "encoding": {
            "x": {"field": "x", "type": "quantitative", "scale": {"domain": [0, 75], "range": [118, 455.7], "nice": false, "zero": false},
                  "axis": {"title": "Time (s)", "values": [0, 20, 40, 60], "grid": false, "offset": -158, "labelPadding": 18, "titlePadding": 15}},
            "y": {"field": "y", "type": "quantitative", "scale": {"domain": [0, 200], "range": [374, 89], "nice": false, "zero": false},
                  "axis": {"title": "Cumulative Acceleration (g)", "values": [0, 50, 100, 150, 200], "grid": true, "offset": -118, "labelPadding": 21, "titlePadding": 8}},
            "color": {"field": "s", "type": "nominal", "scale": {"domain": ["Test Case 1", "TBPS NS"], "range": ["#ED7D31", "#70AD47"]},
                      "legend": {"title": null, "orient": "none", "direction": "horizontal", "legendX": 101, "legendY": 473.5}}
          },
          "layer": [
            {"data": {"name": "cum_tc1"}, "mark": {"type": "line", "strokeWidth": 2.8}},
            {"data": {"name": "cum_ns"}, "mark": {"type": "line", "strokeWidth": 2.8}}
          ]
        }
      ],
      "spacing": 3.5,
      "bounds": "full",
      "resolve": {"scale": {"color": "independent"}, "legend": {"color": "independent"}}
    },
    {
      "vconcat": [
        {
          "width": 990, "height": 527,
          "title": {"text": "Fourier Amplitude Spectrum", "fontSize": 28, "offset": -55},
          "encoding": {
            "x": {"field": "x", "type": "quantitative", "scale": {"type": "log", "domain": [0.01, 100], "range": [107, 941.3], "nice": false},
                  "axis": {"title": "Frequency (Hz)", "values": [0.01, 0.1, 1, 10, 100], "format": "~g", "grid": false, "offset": -157.4, "labelPadding": 18, "titlePadding": 16}},
            "y": {"field": "y", "type": "quantitative", "scale": {"domain": [0, 50], "range": [369.6, 86.8], "nice": false, "zero": false},
                  "axis": {"title": "Fourier Amplitude (g-s)", "values": [0, 10, 20, 30, 40, 50], "grid": true, "offset": -107, "labelPadding": 19, "titlePadding": 13}},
            "color": {"field": "s", "type": "nominal", "scale": {"domain": ["Test Case 1", "TBPS EW"], "range": ["#ED7D31", "#4472C4"]},
                      "legend": {"title": null, "orient": "none", "direction": "horizontal", "legendX": 347.5, "legendY": 467.3}}
          },
          "layer": [
            {"data": {"name": "fas_tc1"}, "mark": {"type": "line", "strokeWidth": 2.4}},
            {"data": {"name": "fas_ew"}, "mark": {"type": "line", "strokeWidth": 2.4}}
          ]
        },
        {
          "width": 990, "height": 530,
          "title": {"text": "Fourier Amplitude Spectrum", "fontSize": 28, "offset": -55},
          "encoding": {
            "x": {"field": "x", "type": "quantitative", "scale": {"type": "log", "domain": [0.01, 100], "range": [107, 941.3], "nice": false},
                  "axis": {"title": "Frequency (Hz)", "values": [0.01, 0.1, 1, 10, 100], "format": "~g", "grid": false, "offset": -160.2, "labelPadding": 18, "titlePadding": 16}},
            "y": {"field": "y", "type": "quantitative", "scale": {"domain": [0, 50], "range": [369.8, 88.2], "nice": false, "zero": false},
                  "axis": {"title": "Fourier Amplitude (g-s)", "values": [0, 10, 20, 30, 40, 50], "grid": true, "offset": -107, "labelPadding": 19, "titlePadding": 13}},
            "color": {"field": "s", "type": "nominal", "scale": {"domain": ["Test Case 1", "TBPS NS"], "range": ["#ED7D31", "#70AD47"]},
                      "legend": {"title": null, "orient": "none", "direction": "horizontal", "legendX": 350.5, "legendY": 466.7}}
          },
          "layer": [
            {"data": {"name": "fas_tc1"}, "mark": {"type": "line", "strokeWidth": 2.4}},
            {"data": {"name": "fas_ns"}, "mark": {"type": "line", "strokeWidth": 2.4}}
          ]
        }
      ],
      "spacing": 2.5,
      "bounds": "full",
      "resolve": {"scale": {"color": "independent"}, "legend": {"color": "independent"}}
    }
  ],
  "spacing": 3.5,
  "bounds": "full",
  "center": true,
  "resolve": {"scale": {"color": "independent"}, "legend": {"color": "independent"}},
  "config": {
    "font": "Open Sans",
    "view": {"stroke": "#000000", "strokeWidth": 2.5, "fill": "white"},
    "title": {"font": "Open Sans", "fontWeight": "normal", "color": "#595959", "anchor": "middle", "frame": "group"},
    "axis": {
      "labelFont": "Open Sans", "titleFont": "Open Sans", "labelColor": "#595959", "titleColor": "#595959",
      "titleFontWeight": "normal", "labelFontSize": 18, "titleFontSize": 20,
      "ticks": false, "tickSize": 0, "labelFlush": false, "labelOverlap": false,
      "gridColor": "#D9D9D9", "gridWidth": 1.3, "domainColor": "#C8C8C8", "domainWidth": 1.3
    },
    "legend": {
      "symbolType": "stroke", "symbolSize": 2116, "symbolStrokeWidth": 3,
      "labelFont": "Open Sans", "labelFontSize": 18, "labelColor": "#595959", "labelOffset": 2,
      "columnPadding": 16, "padding": 0
    }
  }
}
